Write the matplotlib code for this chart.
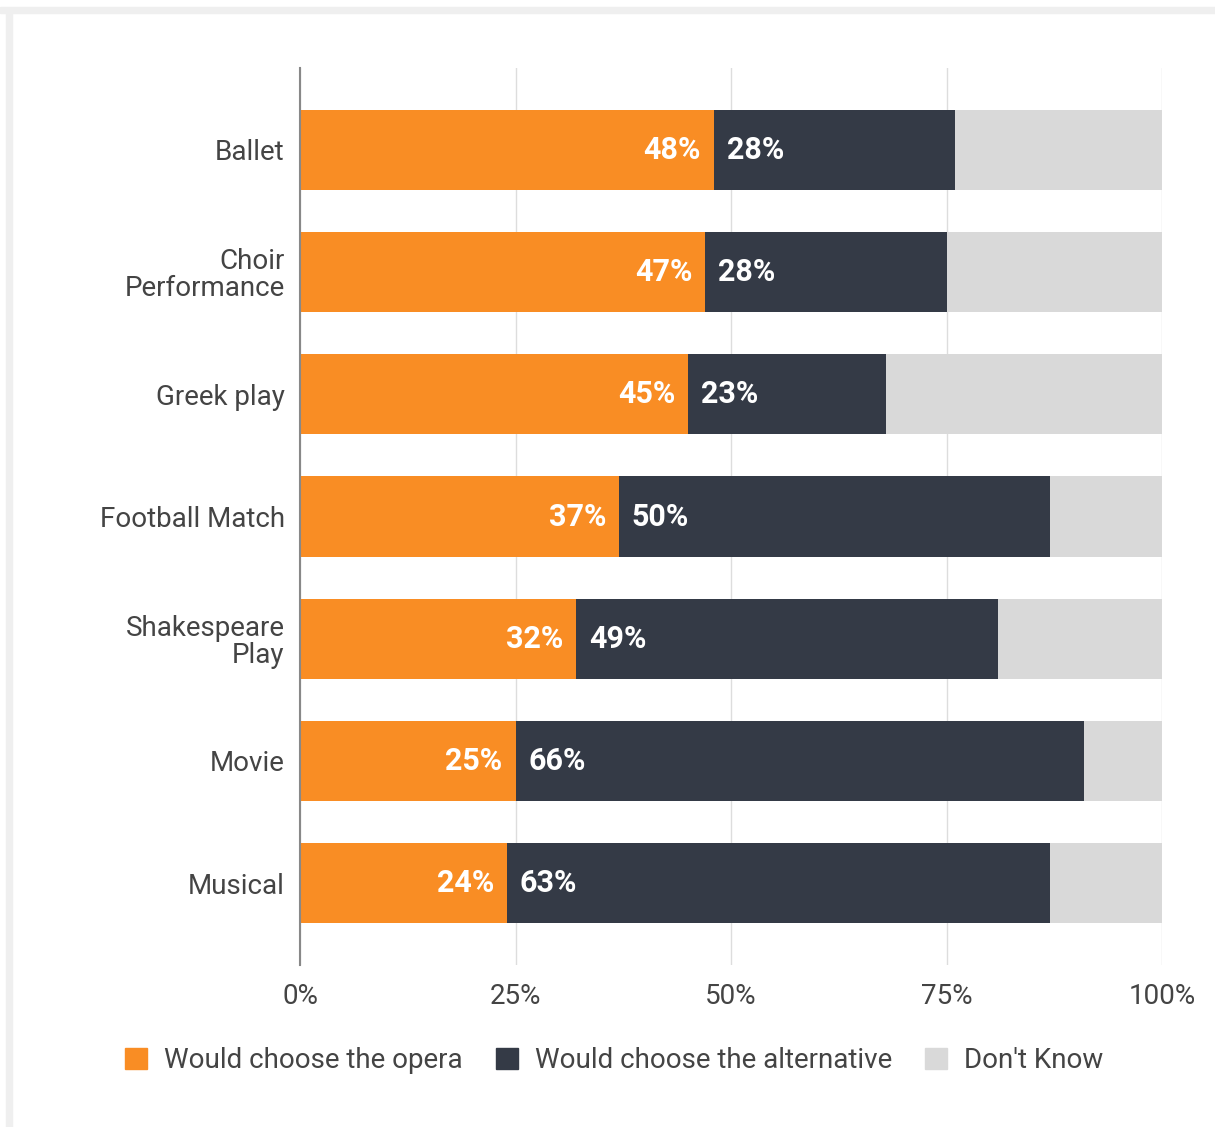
import matplotlib.pyplot as plt
import numpy as np
from matplotlib.patches import Rectangle, Patch

plt.rcParams["font.family"] = ["Roboto", "DejaVu Sans"]

W, H = 1215, 1127

categories = ["Ballet", "Choir\nPerformance", "Greek play", "Football Match",
              "Shakespeare\nPlay", "Movie", "Musical"]
opera = [48, 47, 45, 37, 32, 25, 24]
alternative = [28, 28, 23, 50, 49, 66, 63]
dont_know = [24, 25, 32, 13, 19, 9, 13]
series_names = ["Would choose the opera", "Would choose the alternative", "Don't Know"]
tick_vals = [0, 25, 50, 75, 100]

c_opera = "#f98d24"
c_alt = "#343a46"
c_dk = "#d9d9d9"
txt = "#444444"

fig = plt.figure(figsize=(W / 100, H / 100), dpi=100)

# thin grey frame along the top and left edges
fig.patches.append(Rectangle((0, 1 - 13 / H), 1, 6 / H, transform=fig.transFigure,
                             color="#efefef", zorder=0))
fig.patches.append(Rectangle((6 / W, 0), 6 / W, 1 - 13 / H, transform=fig.transFigure,
                             color="#efefef", zorder=0))

ax = fig.add_axes([300 / W, 1 - 965 / H, (1162 - 300) / W, (965 - 68) / H])

y = np.arange(len(categories))
h = 0.655
ax.barh(y, opera, height=h, color=c_opera, zorder=2)
ax.barh(y, alternative, left=opera, height=h, color=c_alt, zorder=2)
left_dk = np.array(opera) + np.array(alternative)
ax.barh(y, dont_know, left=left_dk, height=h, color=c_dk, zorder=2)

for yi, o, a in zip(y, opera, alternative):
    ax.text(o - 1.5, yi, f"{o}%", ha="right", va="center", color="white",
            fontsize=22, fontweight="bold", zorder=3)
    ax.text(o + 1.5, yi, f"{a}%", ha="left", va="center", color="white",
            fontsize=22, fontweight="bold", zorder=3)

ax.set_xlim(0, 100)
ax.set_ylim(6 + 0.671, -0.671)
ax.set_yticks(y)
ax.set_yticklabels(categories, fontsize=20, color=txt, linespacing=1.0)
ax.set_xticks(tick_vals)
ax.set_xticklabels([f"{t}%" for t in tick_vals], fontsize=20, color=txt)
ax.tick_params(axis="both", length=0)
ax.tick_params(axis="y", pad=11)
ax.tick_params(axis="x", pad=13)

for s in ["top", "right", "bottom"]:
    ax.spines[s].set_visible(False)
ax.spines["left"].set_color("#888888")
ax.spines["left"].set_linewidth(1.5)
ax.spines["left"].set_zorder(4)
ax.xaxis.grid(True, color="#dddddd", linewidth=1)
ax.set_axisbelow(True)

handles = [Patch(color=c) for c in (c_opera, c_alt, c_dk)]
fig.legend(handles, series_names, loc="center", bbox_to_anchor=(614 / W, 1 - 1061 / H),
           ncol=3, frameon=False, fontsize=20, labelcolor=txt,
           handlelength=0.8, handleheight=0.8, handletextpad=0.6, columnspacing=1.2)

fig.savefig("out.png", dpi=100)
